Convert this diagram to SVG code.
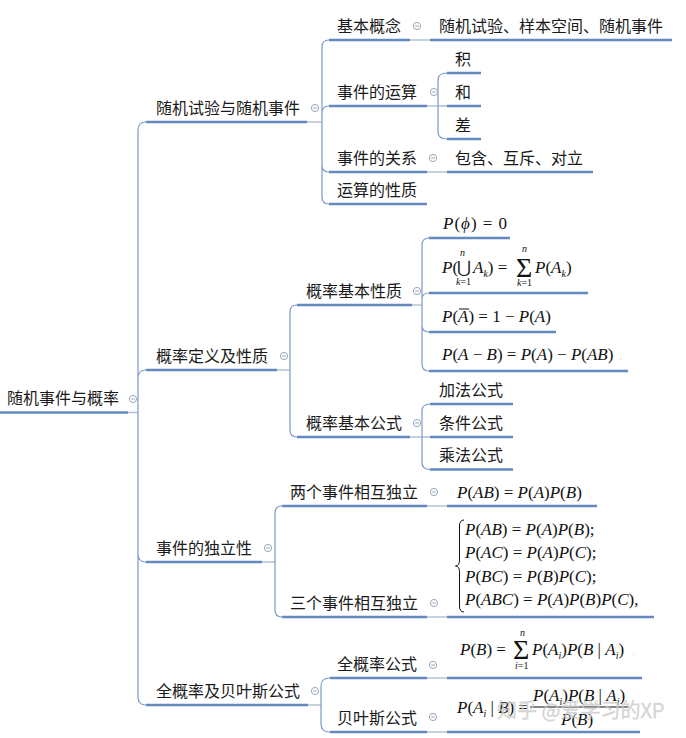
<svg xmlns="http://www.w3.org/2000/svg" xmlns:xlink="http://www.w3.org/1999/xlink" width="686" height="738" viewBox="0 0 686 738">
<style>
.t{font-family:"Noto Sans CJK SC","Noto Sans",sans-serif;font-size:16px;fill:#1a1a1a}
.ul{stroke:#6489bf;stroke-width:2.6;fill:none}
.gr{stroke:#b4c3d6;stroke-width:1.6;fill:none}
.cv{stroke:#7a9acb;stroke-width:1.2;fill:none}
.icc{fill:#fff;stroke:#9aa7b7;stroke-width:1}
.m{font-family:"Liberation Serif","DejaVu Serif",serif;font-size:17px;fill:#111}
.i{font-style:italic}
.s{font-size:10px}
.big{font-size:28px}
.dot{font-family:"Liberation Serif",serif;font-size:7px;fill:#aaa}
.wm{font-family:"Noto Sans CJK SC","Noto Sans",sans-serif;font-size:20px;fill:#d0d0d0;fill-opacity:0.8;stroke:#bdbdbd;stroke-width:0.4;stroke-opacity:0.6}
</style>
<defs>
<g id="ic"><circle r="3.6" class="icc"/><line x1="-1.8" y1="0" x2="1.8" y2="0" stroke="#9aa7b7" stroke-width="1"/></g>
</defs>
<rect width="686" height="738" fill="#fff"/>

<g id="connectors">
<path class="gr" d="M128,412.5H138 M307,122H322 M277,370H290 M262,562H275 M308,705H321 M410,40H430 M427,106H438 M427,172H447 M412,305H422 M410,437H422 M427,506H447 M427,617H447 M427,678H447 M427,732H447"/>
<path class="cv" d="M138,412.5 L138,130 Q138,122 146,122 M138,412.5 L138,378 Q138,370 146,370 M138,412.5 L138,554 Q138,562 146,562 M138,412.5 L138,697 Q138,705 146,705"/>
<path class="cv" d="M322,122 L322,47 Q322,40 329,40 M322,122 L322,113 Q322,106 329,106 M322,122 L322,165 Q322,172 329,172 M322,122 L322,197 Q322,204 329,204"/>
<path class="cv" d="M438,106 L438,80 Q438,73 447,73 M438,106 L447,106 M438,106 L438,132 Q438,139 447,139"/>
<path class="cv" d="M290,370 L290,312 Q290,305 297,305 M290,370 L290,430 Q290,437 297,437"/>
<path class="cv" d="M422,305 L422,245 Q422,238 429,238 M422,305 L422,299 Q422,293 429,293 M422,305 L422,325 Q422,332 429,332 M422,305 L422,364 Q422,371 429,371"/>
<path class="cv" d="M422,437 L422,411 Q422,404 430,404 M422,437 L430,437 M422,437 L422,462.5 Q422,469.5 430,469.5"/>
<path class="cv" d="M275,562 L275,513 Q275,506 282,506 M275,562 L275,610 Q275,617 282,617"/>
<path class="cv" d="M321,705 L321,686 Q321,678 330,678 M321,705 L321,724 Q321,732 330,732"/>
</g>

<g id="root">
<line class="ul" x1="0" y1="412.5" x2="128" y2="412.5"/>
<text class="t" x="7" y="404">随机事件与概率</text>
<use xlink:href="#ic" x="133" y="399"/>
</g>

<g id="n-b1">
<line class="ul" x1="146" y1="122" x2="307" y2="122"/>
<text class="t" x="156" y="113.5">随机试验与随机事件</text>
<use xlink:href="#ic" x="315" y="108"/>
</g>
<g id="n-jbgn">
<line class="ul" x1="329" y1="40" x2="410" y2="40"/>
<text class="t" x="337" y="31.5">基本概念</text>
<use xlink:href="#ic" x="417" y="26"/>
</g>
<g id="n-jbgn-c">
<line class="ul" x1="430" y1="40" x2="672" y2="40"/>
<text class="t" x="439" y="31.5">随机试验、样本空间、随机事件</text>
</g>
<g id="n-ys">
<line class="ul" x1="329" y1="106" x2="427" y2="106"/>
<text class="t" x="337" y="97.5">事件的运算</text>
<use xlink:href="#ic" x="434" y="92"/>
</g>
<g id="n-ji">
<line class="ul" x1="447" y1="73" x2="481" y2="73"/>
<text class="t" x="455" y="64.5">积</text>
</g>
<g id="n-he">
<line class="ul" x1="447" y1="106" x2="481" y2="106"/>
<text class="t" x="455" y="97.5">和</text>
</g>
<g id="n-cha">
<line class="ul" x1="447" y1="139" x2="481" y2="139"/>
<text class="t" x="455" y="130.5">差</text>
</g>
<g id="n-gx">
<line class="ul" x1="329" y1="172" x2="427" y2="172"/>
<text class="t" x="337" y="163.5">事件的关系</text>
<use xlink:href="#ic" x="433" y="158"/>
</g>
<g id="n-gx-c">
<line class="ul" x1="447" y1="172" x2="593" y2="172"/>
<text class="t" x="455" y="163.5">包含、互斥、对立</text>
</g>
<g id="n-xz">
<line class="ul" x1="329" y1="204" x2="427" y2="204"/>
<text class="t" x="337" y="195.5">运算的性质</text>
</g>

<g id="n-b2">
<line class="ul" x1="146" y1="370" x2="277" y2="370"/>
<text class="t" x="156" y="361.5">概率定义及性质</text>
<use xlink:href="#ic" x="284" y="356"/>
</g>
<g id="n-jbxz">
<line class="ul" x1="297" y1="305" x2="412" y2="305"/>
<text class="t" x="306" y="296.5">概率基本性质</text>
<use xlink:href="#ic" x="417" y="291"/>
</g>
<g id="n-f1">
<line class="ul" x1="429" y1="238" x2="510" y2="238"/>
<text class="m" x="443" y="229" letter-spacing="1"><tspan class="i">P</tspan>(<tspan class="i">ϕ</tspan>) = 0</text>
</g>
<g id="n-f2">
<line class="ul" x1="429" y1="293" x2="588" y2="293"/>
<text class="m" x="442" y="273"><tspan class="i">P</tspan>(</text>
<text class="m" x="457" y="273" font-size="14">⋃</text>
<text class="m s i" x="460" y="256">n</text>
<text class="m s" x="456" y="285"><tspan class="i">k</tspan>=1</text>
<text class="m" x="473" y="273"><tspan class="i">A</tspan><tspan class="s i" dy="4">k</tspan><tspan dy="-4">) = </tspan></text>
<text class="m big" x="516" y="277">Σ</text>
<text class="m s i" x="522" y="252">n</text>
<text class="m s" x="517" y="286"><tspan class="i">k</tspan>=1</text>
<text class="m" x="535" y="273"><tspan class="i">P</tspan>(<tspan class="i">A</tspan><tspan class="s i" dy="4">k</tspan><tspan dy="-4">)</tspan></text>
</g>
<g id="n-f3">
<line class="ul" x1="429" y1="332" x2="556" y2="332"/>
<text class="m" x="442" y="322"><tspan class="i">P</tspan>(<tspan class="i">A</tspan>) = 1 − <tspan class="i">P</tspan>(<tspan class="i">A</tspan>)</text>
<line x1="459" y1="309" x2="469" y2="309" stroke="#111" stroke-width="1"/>
</g>
<g id="n-f4">
<line class="ul" x1="429" y1="371" x2="628" y2="371"/>
<text class="m" x="442" y="360"><tspan class="i">P</tspan>(<tspan class="i">A</tspan> − <tspan class="i">B</tspan>) = <tspan class="i">P</tspan>(<tspan class="i">A</tspan>) − <tspan class="i">P</tspan>(<tspan class="i">AB</tspan>)</text>
<text class="dot" x="620" y="360">.</text>
</g>
<g id="n-jbgs">
<line class="ul" x1="297" y1="437" x2="410" y2="437"/>
<text class="t" x="306" y="428.5">概率基本公式</text>
<use xlink:href="#ic" x="417" y="423"/>
</g>
<g id="n-jf">
<line class="ul" x1="430" y1="404" x2="513" y2="404"/>
<text class="t" x="439" y="395.5">加法公式</text>
</g>
<g id="n-tj">
<line class="ul" x1="430" y1="437" x2="513" y2="437"/>
<text class="t" x="439" y="428.5">条件公式</text>
</g>
<g id="n-cf">
<line class="ul" x1="430" y1="469.5" x2="513" y2="469.5"/>
<text class="t" x="439" y="461">乘法公式</text>
</g>

<g id="n-b3">
<line class="ul" x1="146" y1="562" x2="262" y2="562"/>
<text class="t" x="156" y="553.5">事件的独立性</text>
<use xlink:href="#ic" x="268" y="548"/>
</g>
<g id="n-lg">
<line class="ul" x1="282" y1="506" x2="427" y2="506"/>
<text class="t" x="290" y="497.5">两个事件相互独立</text>
<use xlink:href="#ic" x="434" y="492"/>
</g>
<g id="n-lg-f">
<line class="ul" x1="447" y1="506" x2="597" y2="506"/>
<text class="m" x="457" y="498"><tspan class="i">P</tspan>(<tspan class="i">AB</tspan>) = <tspan class="i">P</tspan>(<tspan class="i">A</tspan>)<tspan class="i">P</tspan>(<tspan class="i">B</tspan>)</text>
<text class="dot" x="589" y="498">.</text>
</g>
<g id="n-sg">
<line class="ul" x1="282" y1="617" x2="427" y2="617"/>
<text class="t" x="290" y="608.5">三个事件相互独立</text>
<use xlink:href="#ic" x="434" y="603"/>
</g>
<g id="n-sg-f">
<line class="ul" x1="447" y1="617" x2="654" y2="617"/>
<path d="M464,520 Q459.5,520 459.5,526 L459.5,560 Q459.5,566 455.5,566 Q459.5,566 459.5,572 L459.5,606 Q459.5,612 464,612" fill="none" stroke="#111" stroke-width="1"/>
<text class="m" x="465" y="535"><tspan class="i">P</tspan>(<tspan class="i">AB</tspan>) = <tspan class="i">P</tspan>(<tspan class="i">A</tspan>)<tspan class="i">P</tspan>(<tspan class="i">B</tspan>);</text>
<text class="m" x="465" y="558"><tspan class="i">P</tspan>(<tspan class="i">AC</tspan>) = <tspan class="i">P</tspan>(<tspan class="i">A</tspan>)<tspan class="i">P</tspan>(<tspan class="i">C</tspan>);</text>
<text class="m" x="465" y="582"><tspan class="i">P</tspan>(<tspan class="i">BC</tspan>) = <tspan class="i">P</tspan>(<tspan class="i">B</tspan>)<tspan class="i">P</tspan>(<tspan class="i">C</tspan>);</text>
<text class="m" x="465" y="605"><tspan class="i">P</tspan>(<tspan class="i">ABC</tspan>) = <tspan class="i">P</tspan>(<tspan class="i">A</tspan>)<tspan class="i">P</tspan>(<tspan class="i">B</tspan>)<tspan class="i">P</tspan>(<tspan class="i">C</tspan>),</text>
</g>

<g id="n-b4">
<line class="ul" x1="146" y1="705" x2="308" y2="705"/>
<text class="t" x="156" y="696.5">全概率及贝叶斯公式</text>
<use xlink:href="#ic" x="315" y="691"/>
</g>
<g id="n-qgl">
<line class="ul" x1="330" y1="678" x2="427" y2="678"/>
<text class="t" x="337" y="669.5">全概率公式</text>
<use xlink:href="#ic" x="433" y="665"/>
</g>
<g id="n-qgl-f">
<line class="ul" x1="447" y1="678" x2="642" y2="678"/>
<text class="m" x="460" y="655"><tspan class="i">P</tspan>(<tspan class="i">B</tspan>) =</text>
<text class="m big" x="513" y="659">Σ</text>
<text class="m s i" x="520" y="636">n</text>
<text class="m s" x="515" y="669"><tspan class="i">i</tspan>=1</text>
<text class="m" x="532" y="655"><tspan class="i">P</tspan>(<tspan class="i">A</tspan><tspan class="s i" dy="4">i</tspan><tspan dy="-4">)</tspan><tspan class="i">P</tspan>(<tspan class="i">B</tspan> | <tspan class="i">A</tspan><tspan class="s i" dy="4">i</tspan><tspan dy="-4">)</tspan></text>
<text class="dot" x="633" y="655">.</text>
</g>
<g id="n-bys">
<line class="ul" x1="330" y1="732" x2="427" y2="732"/>
<text class="t" x="337" y="723.5">贝叶斯公式</text>
<use xlink:href="#ic" x="433" y="717"/>
</g>
<g id="n-bys-f">
<line class="ul" x1="447" y1="732" x2="640" y2="732"/>
<text class="m" x="457" y="713"><tspan class="i">P</tspan>(<tspan class="i">A</tspan><tspan class="s i" dy="4">i</tspan><tspan dy="-4"> | </tspan><tspan class="i">B</tspan>) =</text>
<text class="m" x="533" y="701"><tspan class="i">P</tspan>(<tspan class="i">A</tspan><tspan class="s i" dy="4">i</tspan><tspan dy="-4">)</tspan><tspan class="i">P</tspan>(<tspan class="i">B</tspan> | <tspan class="i">A</tspan><tspan class="s i" dy="4">i</tspan><tspan dy="-4">)</tspan></text>
<line x1="530" y1="707" x2="628" y2="707" stroke="#111" stroke-width="1"/>
<text class="m" x="561" y="725"><tspan class="i">P</tspan>(<tspan class="i">B</tspan>)</text>
</g>
<text class="wm" x="497" y="718">知乎 @爱学习的XP</text>
</svg>
